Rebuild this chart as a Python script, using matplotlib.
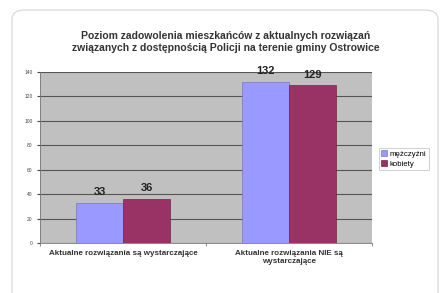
import matplotlib.pyplot as plt
import numpy as np
from matplotlib.patches import FancyBboxPatch

categories = ['Aktualne rozwiązania są wystarczające', 'Aktualne rozwiązania NIE są\nwystarczające']
men = [33, 132]
women = [36, 129]
series_names = ['mężczyźni', 'kobiety']
title = 'Poziom zadowolenia mieszkańców z aktualnych rozwiązań\nzwiązanych z dostępnością Policji na terenie gminy Ostrowice'

plt.rcParams['font.family'] = ['Liberation Sans', 'DejaVu Sans']

fig = plt.figure(figsize=(4.43, 2.93), dpi=100)
fig.patch.set_facecolor('white')

# card border behind everything
card = FancyBboxPatch((12/443, -0.05), 426/443, 1 - 10/293 + 0.05,
                      boxstyle='round,pad=0,rounding_size=0.03',
                      transform=fig.transFigure, facecolor='white',
                      edgecolor='#dddddd', linewidth=1.0, zorder=-5)
fig.patches.append(card)

ax = fig.add_axes([40/443, 1 - 243/293, 332/443, 171/293])
ax.set_facecolor('#c0c0c0')

x = np.arange(len(categories))
w = 0.283
b1 = ax.bar(x - w/2, men, w, color='#9999ff', edgecolor='#7777bb', linewidth=0.5,
            label=series_names[0], zorder=3)
b2 = ax.bar(x + w/2, women, w, color='#993366', edgecolor='#772244', linewidth=0.5,
            label=series_names[1], zorder=3)

for bars in (b1, b2):
    for r in bars:
        ax.annotate(str(int(r.get_height())), (r.get_x() + r.get_width()/2, r.get_height()),
                    xytext=(0, 4), textcoords='offset points',
                    ha='center', va='bottom', fontsize=8, fontweight='bold', color='#222222')

ax.set_xlim(-0.5, 1.5)
ax.set_ylim(0, 140)
ax.set_yticks(range(0, 141, 20))
ax.yaxis.grid(True, color='#555555', linewidth=0.8, zorder=0)
ax.tick_params(axis='y', labelsize=3.5, length=2, colors='#444444')
ax.set_xticks([-0.5, 0.5, 1.5], minor=True)
ax.set_xticks(x)
ax.set_xticklabels(categories, fontsize=5.8, fontweight='bold', color='#333333',
                   linespacing=1.3)
ax.tick_params(axis='x', which='major', length=0, pad=5)
ax.tick_params(axis='x', which='minor', length=2, colors='#777777')
for s in ['top', 'right']:
    ax.spines[s].set_visible(False)
ax.spines['left'].set_color('#777777')
ax.spines['bottom'].set_color('#777777')
ax.spines['left'].set_linewidth(0.6)
ax.spines['bottom'].set_linewidth(0.6)

fig.text(226/443, 1 - 42/293, title, ha='center', va='center', fontsize=7.5,
         fontweight='bold', color='#333333', linespacing=1.3)

leg = fig.legend(loc='upper left', bbox_to_anchor=(375/443, 1 - 144/293), fontsize=5.6,
                 frameon=True, handlelength=0.8, handleheight=0.8, handletextpad=0.3,
                 borderpad=0.3, labelspacing=0.3, fancybox=False)
leg.get_frame().set_edgecolor('#bbbbbb')
leg.get_frame().set_linewidth(0.6)

fig.savefig('out.png', dpi=100)
